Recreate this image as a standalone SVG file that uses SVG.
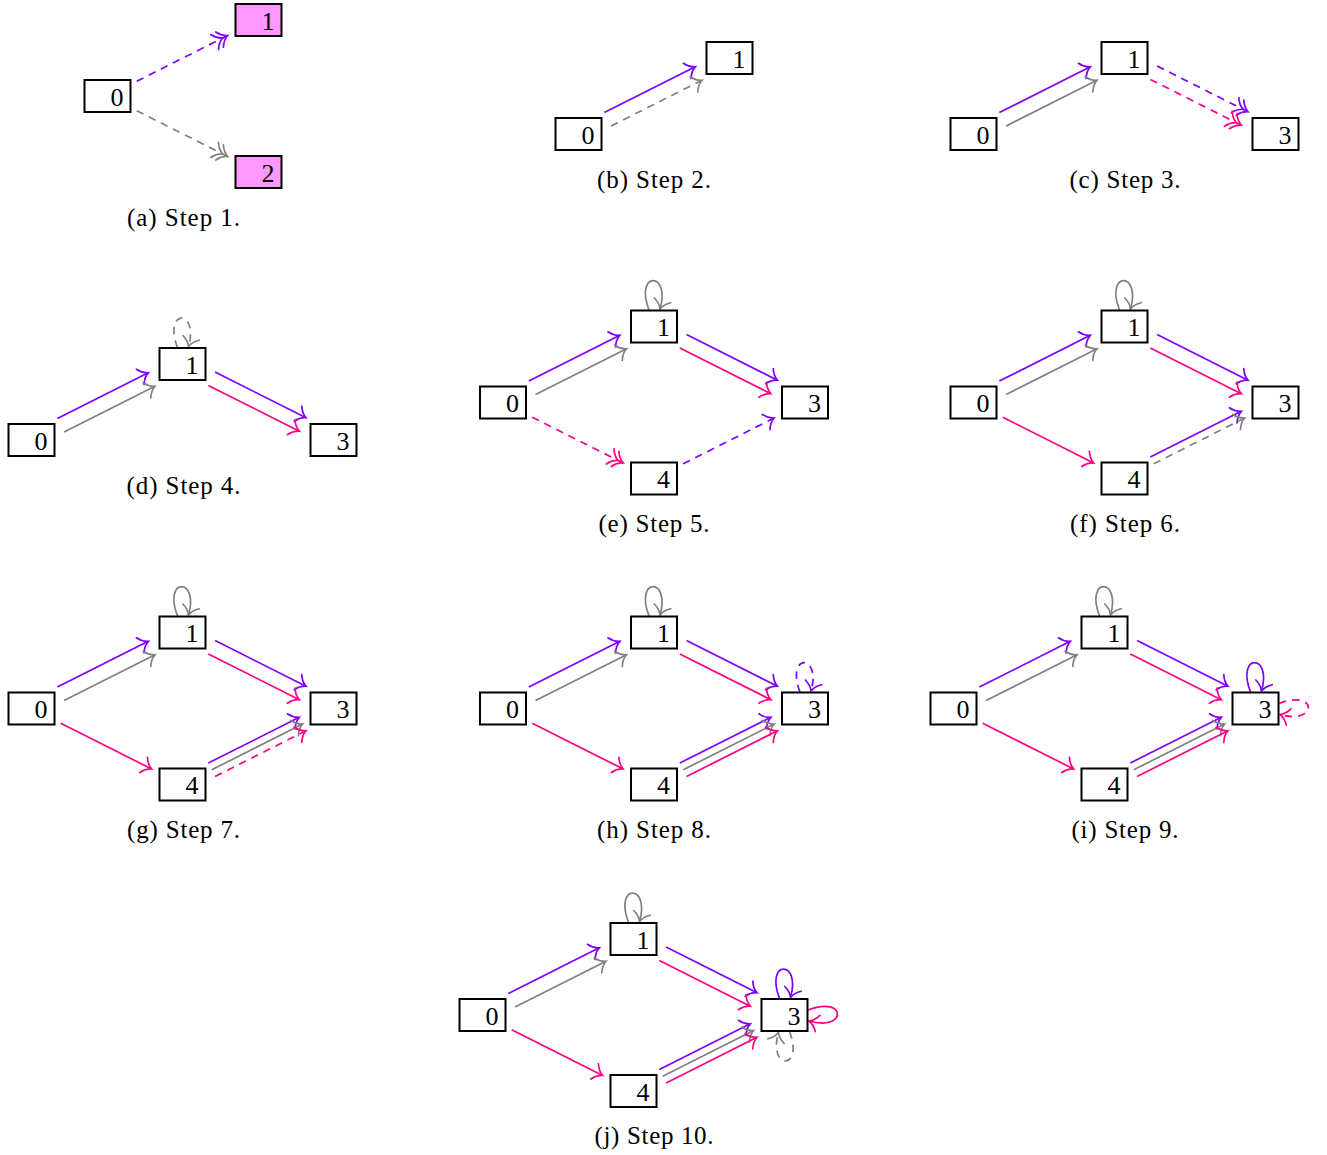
<svg xmlns="http://www.w3.org/2000/svg" width="1327" height="1155" viewBox="0 0 1327 1155">
<style>
.box{fill:#fff;stroke:#000;stroke-width:2}
.hl{fill:#ff99ff}
.lbl{font-family:"Liberation Serif",serif;font-size:26px;text-anchor:end;fill:#000}
.cap{font-family:"Liberation Serif",serif;font-size:25px;text-anchor:middle;fill:#000}
.e{fill:none;stroke-width:1.7}
.v{stroke:#8000ff}.g{stroke:#808080}.p{stroke:#ff0080}
.d{stroke-dasharray:7.5 6}
.v1{marker-end:url(#mv)}.g1{marker-end:url(#mg)}.p1{marker-end:url(#mp)}
.v2{marker-end:url(#mv2)}.g2{marker-end:url(#mg2)}.p2{marker-end:url(#mp2)}
</style>
<defs>
<marker id="mv" markerUnits="userSpaceOnUse" markerWidth="30" markerHeight="30" viewBox="-20 -15 30 30" refX="0" refY="0" orient="auto" overflow="visible"><path d="M-9,-8.5 C-6.5,-4 -2.5,-1 0,0 C-2.5,1 -6.5,4 -9,8.5" fill="none" stroke="#8000ff" stroke-width="1.7" stroke-linecap="round"/></marker>
<marker id="mg" markerUnits="userSpaceOnUse" markerWidth="30" markerHeight="30" viewBox="-20 -15 30 30" refX="0" refY="0" orient="auto" overflow="visible"><path d="M-9,-8.5 C-6.5,-4 -2.5,-1 0,0 C-2.5,1 -6.5,4 -9,8.5" fill="none" stroke="#808080" stroke-width="1.7" stroke-linecap="round"/></marker>
<marker id="mp" markerUnits="userSpaceOnUse" markerWidth="30" markerHeight="30" viewBox="-20 -15 30 30" refX="0" refY="0" orient="auto" overflow="visible"><path d="M-9,-8.5 C-6.5,-4 -2.5,-1 0,0 C-2.5,1 -6.5,4 -9,8.5" fill="none" stroke="#ff0080" stroke-width="1.7" stroke-linecap="round"/></marker>
<marker id="mv2" markerUnits="userSpaceOnUse" markerWidth="30" markerHeight="30" viewBox="-20 -15 30 30" refX="0" refY="0" orient="auto" overflow="visible"><path d="M-9,-8.5 C-6.5,-4 -2.5,-1 0,0 C-2.5,1 -6.5,4 -9,8.5 M-14.5,-8.5 C-12,-4 -8,-1 -5.5,0 C-8,1 -12,4 -14.5,8.5" fill="none" stroke="#8000ff" stroke-width="1.7" stroke-linecap="round"/></marker>
<marker id="mg2" markerUnits="userSpaceOnUse" markerWidth="30" markerHeight="30" viewBox="-20 -15 30 30" refX="0" refY="0" orient="auto" overflow="visible"><path d="M-9,-8.5 C-6.5,-4 -2.5,-1 0,0 C-2.5,1 -6.5,4 -9,8.5 M-14.5,-8.5 C-12,-4 -8,-1 -5.5,0 C-8,1 -12,4 -14.5,8.5" fill="none" stroke="#808080" stroke-width="1.7" stroke-linecap="round"/></marker>
<marker id="mp2" markerUnits="userSpaceOnUse" markerWidth="30" markerHeight="30" viewBox="-20 -15 30 30" refX="0" refY="0" orient="auto" overflow="visible"><path d="M-9,-8.5 C-6.5,-4 -2.5,-1 0,0 C-2.5,1 -6.5,4 -9,8.5 M-14.5,-8.5 C-12,-4 -8,-1 -5.5,0 C-8,1 -12,4 -14.5,8.5" fill="none" stroke="#ff0080" stroke-width="1.7" stroke-linecap="round"/></marker>
</defs>
<rect width="1327" height="1155" fill="#fff"/>

<!-- (a) -->
<g id="panel-a" transform="translate(107.5,96)">
<g id="a-edges">
<path class="e v d v2" d="M29.21,-14.70 L120.14,-60.47"/>
<path class="e g d g2" d="M29.21,14.70 L120.14,60.47"/>
</g>
<g id="a-n0"><rect class="box" x="-23" y="-16" width="46" height="32"/><text class="lbl" x="16" y="9.5">0</text></g>
<g id="a-n1" transform="translate(151,-76)"><rect class="box hl" x="-23" y="-16" width="46" height="32"/><text class="lbl" x="16" y="9.5">1</text></g>
<g id="a-n2" transform="translate(151,76)"><rect class="box hl" x="-23" y="-16" width="46" height="32"/><text class="lbl" x="16" y="9.5">2</text></g>
</g>
<text class="cap" x="183.5" y="226" textLength="113">(a) Step 1.</text>

<!-- (b) -->
<g id="panel-b" transform="translate(578.5,134)">
<g id="b-edges">
<path class="e v v1" d="M25.84,-21.40 L116.77,-67.17"/>
<path class="e g d g1" d="M32.58,-8.00 L123.51,-53.77"/>
</g>
<g id="b-n0"><rect class="box" x="-23" y="-16" width="46" height="32"/><text class="lbl" x="16" y="9.5">0</text></g>
<g id="b-n1" transform="translate(151,-76)"><rect class="box" x="-23" y="-16" width="46" height="32"/><text class="lbl" x="16" y="9.5">1</text></g>
</g>
<text class="cap" x="654" y="188" textLength="114">(b) Step 2.</text>

<!-- (c) -->
<g id="panel-c" transform="translate(973.5,134)">
<g id="c-edges">
<path class="e v v1" d="M25.84,-21.40 L116.77,-67.17"/>
<path class="e g g1" d="M32.58,-8.00 L123.51,-53.77"/>
<path class="e v d v2" d="M183.58,-68.00 L274.51,-22.23"/>
<path class="e p d p2" d="M176.84,-54.60 L267.77,-8.83"/>
</g>
<g id="c-n0"><rect class="box" x="-23" y="-16" width="46" height="32"/><text class="lbl" x="16" y="9.5">0</text></g>
<g id="c-n1" transform="translate(151,-76)"><rect class="box" x="-23" y="-16" width="46" height="32"/><text class="lbl" x="16" y="9.5">1</text></g>
<g id="c-n3" transform="translate(302,0)"><rect class="box" x="-23" y="-16" width="46" height="32"/><text class="lbl" x="16" y="9.5">3</text></g>
</g>
<text class="cap" x="1125" y="188" textLength="111">(c) Step 3.</text>

<!-- (d) -->
<g id="panel-d" transform="translate(31.5,440)">
<g id="d-edges">
<path class="e v v1" d="M25.84,-21.40 L116.77,-67.17"/>
<path class="e g g1" d="M32.58,-8.00 L123.51,-53.77"/>
<path class="e v v1" d="M183.58,-68.00 L274.51,-22.23"/>
<path class="e p p1" d="M176.84,-54.60 L267.77,-8.83"/>
<path class="e g d g1" d="M146,-92.5 C131,-131.5 168,-131.5 157,-93.5"/>
</g>
<g id="d-n0"><rect class="box" x="-23" y="-16" width="46" height="32"/><text class="lbl" x="16" y="9.5">0</text></g>
<g id="d-n1" transform="translate(151,-76)"><rect class="box" x="-23" y="-16" width="46" height="32"/><text class="lbl" x="16" y="9.5">1</text></g>
<g id="d-n3" transform="translate(302,0)"><rect class="box" x="-23" y="-16" width="46" height="32"/><text class="lbl" x="16" y="9.5">3</text></g>
</g>
<text class="cap" x="183.5" y="494" textLength="114">(d) Step 4.</text>

<!-- (e) -->
<g id="panel-e" transform="translate(503,402.5)">
<g id="e-edges">
<path class="e v v1" d="M25.84,-21.40 L116.77,-67.17"/>
<path class="e g g1" d="M32.58,-8.00 L123.51,-53.77"/>
<path class="e v v1" d="M183.58,-68.00 L274.51,-22.23"/>
<path class="e p p1" d="M176.84,-54.60 L267.77,-8.83"/>
<path class="e g g1" d="M146,-92.5 C131,-131.5 168,-131.5 157,-93.5"/>
<path class="e p d p2" d="M29.21,14.70 L120.14,60.47"/>
<path class="e v d v1" d="M180.21,61.30 L271.14,15.53"/>
</g>
<g id="e-n0"><rect class="box" x="-23" y="-16" width="46" height="32"/><text class="lbl" x="16" y="9.5">0</text></g>
<g id="e-n1" transform="translate(151,-76)"><rect class="box" x="-23" y="-16" width="46" height="32"/><text class="lbl" x="16" y="9.5">1</text></g>
<g id="e-n3" transform="translate(302,0)"><rect class="box" x="-23" y="-16" width="46" height="32"/><text class="lbl" x="16" y="9.5">3</text></g>
<g id="e-n4" transform="translate(151,76)"><rect class="box" x="-23" y="-16" width="46" height="32"/><text class="lbl" x="16" y="9.5">4</text></g>
</g>
<text class="cap" x="654" y="532" textLength="111">(e) Step 5.</text>

<!-- (f) -->
<g id="panel-f" transform="translate(973.5,402.5)">
<g id="f-edges">
<path class="e v v1" d="M25.84,-21.40 L116.77,-67.17"/>
<path class="e g g1" d="M32.58,-8.00 L123.51,-53.77"/>
<path class="e v v1" d="M183.58,-68.00 L274.51,-22.23"/>
<path class="e p p1" d="M176.84,-54.60 L267.77,-8.83"/>
<path class="e g g1" d="M146,-92.5 C131,-131.5 168,-131.5 157,-93.5"/>
<path class="e p p1" d="M29.21,14.70 L120.14,60.47"/>
<path class="e v v1" d="M176.84,54.60 L267.77,8.83"/>
<path class="e g d g1" d="M180.21,61.30 L271.14,15.53"/>
</g>
<g id="f-n0"><rect class="box" x="-23" y="-16" width="46" height="32"/><text class="lbl" x="16" y="9.5">0</text></g>
<g id="f-n1" transform="translate(151,-76)"><rect class="box" x="-23" y="-16" width="46" height="32"/><text class="lbl" x="16" y="9.5">1</text></g>
<g id="f-n3" transform="translate(302,0)"><rect class="box" x="-23" y="-16" width="46" height="32"/><text class="lbl" x="16" y="9.5">3</text></g>
<g id="f-n4" transform="translate(151,76)"><rect class="box" x="-23" y="-16" width="46" height="32"/><text class="lbl" x="16" y="9.5">4</text></g>
</g>
<text class="cap" x="1125" y="532" textLength="110">(f) Step 6.</text>

<!-- (g) -->
<g id="panel-g" transform="translate(31.5,708.5)">
<g id="g-edges">
<path class="e v v1" d="M25.84,-21.40 L116.77,-67.17"/>
<path class="e g g1" d="M32.58,-8.00 L123.51,-53.77"/>
<path class="e v v1" d="M183.58,-68.00 L274.51,-22.23"/>
<path class="e p p1" d="M176.84,-54.60 L267.77,-8.83"/>
<path class="e g g1" d="M146,-92.5 C131,-131.5 168,-131.5 157,-93.5"/>
<path class="e p p1" d="M29.21,14.70 L120.14,60.47"/>
<path class="e v v1" d="M176.84,54.60 L267.77,8.83"/>
<path class="e g g1" d="M180.21,61.30 L271.14,15.53"/>
<path class="e p d p1" d="M183.58,68.00 L274.51,22.23"/>
</g>
<g id="g-n0"><rect class="box" x="-23" y="-16" width="46" height="32"/><text class="lbl" x="16" y="9.5">0</text></g>
<g id="g-n1" transform="translate(151,-76)"><rect class="box" x="-23" y="-16" width="46" height="32"/><text class="lbl" x="16" y="9.5">1</text></g>
<g id="g-n3" transform="translate(302,0)"><rect class="box" x="-23" y="-16" width="46" height="32"/><text class="lbl" x="16" y="9.5">3</text></g>
<g id="g-n4" transform="translate(151,76)"><rect class="box" x="-23" y="-16" width="46" height="32"/><text class="lbl" x="16" y="9.5">4</text></g>
</g>
<text class="cap" x="183.5" y="838" textLength="113">(g) Step 7.</text>

<!-- (h) -->
<g id="panel-h" transform="translate(503,708.5)">
<g id="h-edges">
<path class="e v v1" d="M25.84,-21.40 L116.77,-67.17"/>
<path class="e g g1" d="M32.58,-8.00 L123.51,-53.77"/>
<path class="e v v1" d="M183.58,-68.00 L274.51,-22.23"/>
<path class="e p p1" d="M176.84,-54.60 L267.77,-8.83"/>
<path class="e g g1" d="M146,-92.5 C131,-131.5 168,-131.5 157,-93.5"/>
<path class="e p p1" d="M29.21,14.70 L120.14,60.47"/>
<path class="e v v1" d="M176.84,54.60 L267.77,8.83"/>
<path class="e g g1" d="M180.21,61.30 L271.14,15.53"/>
<path class="e p p1" d="M183.58,68.00 L274.51,22.23"/>
<path class="e v d v1" d="M297,-16.5 C282,-55.5 319,-55.5 308,-17.5"/>
</g>
<g id="h-n0"><rect class="box" x="-23" y="-16" width="46" height="32"/><text class="lbl" x="16" y="9.5">0</text></g>
<g id="h-n1" transform="translate(151,-76)"><rect class="box" x="-23" y="-16" width="46" height="32"/><text class="lbl" x="16" y="9.5">1</text></g>
<g id="h-n3" transform="translate(302,0)"><rect class="box" x="-23" y="-16" width="46" height="32"/><text class="lbl" x="16" y="9.5">3</text></g>
<g id="h-n4" transform="translate(151,76)"><rect class="box" x="-23" y="-16" width="46" height="32"/><text class="lbl" x="16" y="9.5">4</text></g>
</g>
<text class="cap" x="654" y="838" textLength="114">(h) Step 8.</text>

<!-- (i) -->
<g id="panel-i" transform="translate(953.5,708.5)">
<g id="i-edges">
<path class="e v v1" d="M25.84,-21.40 L116.77,-67.17"/>
<path class="e g g1" d="M32.58,-8.00 L123.51,-53.77"/>
<path class="e v v1" d="M183.58,-68.00 L274.51,-22.23"/>
<path class="e p p1" d="M176.84,-54.60 L267.77,-8.83"/>
<path class="e g g1" d="M146,-92.5 C131,-131.5 168,-131.5 157,-93.5"/>
<path class="e p p1" d="M29.21,14.70 L120.14,60.47"/>
<path class="e v v1" d="M176.84,54.60 L267.77,8.83"/>
<path class="e g g1" d="M180.21,61.30 L271.14,15.53"/>
<path class="e p p1" d="M183.58,68.00 L274.51,22.23"/>
<path class="e v v1" d="M297,-16.5 C282,-55.5 319,-55.5 308,-17.5"/>
<path class="e p d p1" d="M325.5,-5 C364.5,-20 364.5,17 326.5,6"/>
</g>
<g id="i-n0"><rect class="box" x="-23" y="-16" width="46" height="32"/><text class="lbl" x="16" y="9.5">0</text></g>
<g id="i-n1" transform="translate(151,-76)"><rect class="box" x="-23" y="-16" width="46" height="32"/><text class="lbl" x="16" y="9.5">1</text></g>
<g id="i-n3" transform="translate(302,0)"><rect class="box" x="-23" y="-16" width="46" height="32"/><text class="lbl" x="16" y="9.5">3</text></g>
<g id="i-n4" transform="translate(151,76)"><rect class="box" x="-23" y="-16" width="46" height="32"/><text class="lbl" x="16" y="9.5">4</text></g>
</g>
<text class="cap" x="1125" y="838" textLength="107">(i) Step 9.</text>

<!-- (j) -->
<g id="panel-j" transform="translate(482.5,1015)">
<g id="j-edges">
<path class="e v v1" d="M25.84,-21.40 L116.77,-67.17"/>
<path class="e g g1" d="M32.58,-8.00 L123.51,-53.77"/>
<path class="e v v1" d="M183.58,-68.00 L274.51,-22.23"/>
<path class="e p p1" d="M176.84,-54.60 L267.77,-8.83"/>
<path class="e g g1" d="M146,-92.5 C131,-131.5 168,-131.5 157,-93.5"/>
<path class="e p p1" d="M29.21,14.70 L120.14,60.47"/>
<path class="e v v1" d="M176.84,54.60 L267.77,8.83"/>
<path class="e g g1" d="M180.21,61.30 L271.14,15.53"/>
<path class="e p p1" d="M183.58,68.00 L274.51,22.23"/>
<path class="e v v1" d="M297,-16.5 C282,-55.5 319,-55.5 308,-17.5"/>
<path class="e p p1" d="M325.5,-5 C364.5,-20 364.5,17 326.5,6"/>
<path class="e g d g1" d="M307,16.5 C322,55.5 285,55.5 296,17.5"/>
</g>
<g id="j-n0"><rect class="box" x="-23" y="-16" width="46" height="32"/><text class="lbl" x="16" y="9.5">0</text></g>
<g id="j-n1" transform="translate(151,-76)"><rect class="box" x="-23" y="-16" width="46" height="32"/><text class="lbl" x="16" y="9.5">1</text></g>
<g id="j-n3" transform="translate(302,0)"><rect class="box" x="-23" y="-16" width="46" height="32"/><text class="lbl" x="16" y="9.5">3</text></g>
<g id="j-n4" transform="translate(151,76)"><rect class="box" x="-23" y="-16" width="46" height="32"/><text class="lbl" x="16" y="9.5">4</text></g>
</g>
<text class="cap" x="654" y="1144" textLength="119">(j) Step 10.</text>
</svg>
